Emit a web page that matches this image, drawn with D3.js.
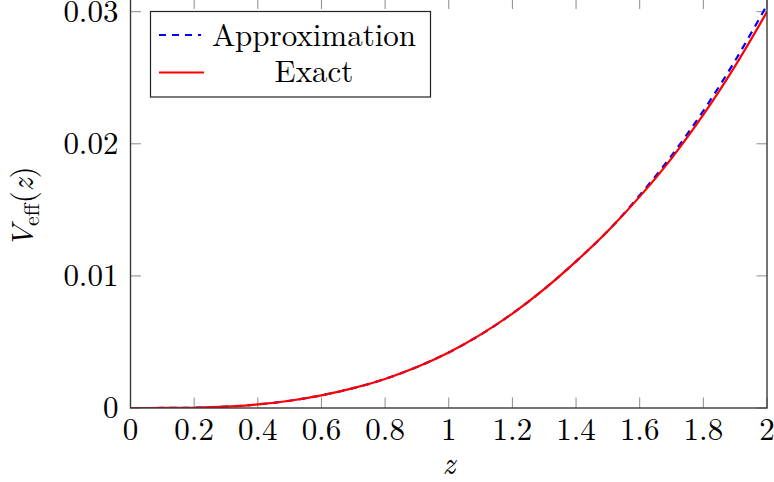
<!DOCTYPE html>
<html>
<head>
<meta charset="utf-8">
<script src="https://cdn.jsdelivr.net/npm/d3@7"></script>
<style>
  html, body { margin: 0; padding: 0; background: #fff; }
  svg { display: block; }
</style>
</head>
<body>
<svg id="chart" width="774" height="482"></svg>
<script>
// ---- data ----
const zValues = [0, 0.1, 0.2, 0.3, 0.4, 0.5, 0.6, 0.7, 0.8, 0.9, 1.0,
                 1.1, 1.2, 1.3, 1.4, 1.5, 1.6, 1.7, 1.8, 1.9, 2.0];
const exactValues = [0, 0.000003, 0.00002, 0.0001, 0.00027, 0.00055, 0.00096, 0.0015, 0.0022, 0.0031, 0.0042,
                     0.00555, 0.00715, 0.0090, 0.0111, 0.0134, 0.0160, 0.0189, 0.0222, 0.0259, 0.0300];
const approxValues = [0, 0.000003, 0.00002, 0.0001, 0.00027, 0.00055, 0.00096, 0.0015, 0.0022, 0.0031, 0.0042,
                      0.00555, 0.00715, 0.0090, 0.0111, 0.0134, 0.0161, 0.0191, 0.0225, 0.0263, 0.0305];
const xTicks = [0, 0.2, 0.4, 0.6, 0.8, 1, 1.2, 1.4, 1.6, 1.8, 2];
const xTickLabels = ["0", "0.2", "0.4", "0.6", "0.8", "1", "1.2", "1.4", "1.6", "1.8", "2"];
const yTicks = [0, 0.01, 0.02, 0.03];
const yTickLabels = ["0", "0.01", "0.02", "0.03"];
const seriesNames = ["Approximation", "Exact"];
const seriesColors = ["#0000ff", "#ff0000"];

(function () {
const svg = d3.select("#chart");
const x = d3.scaleLinear().domain([0, 2]).range([130.5, 767]);
const y = d3.scaleLinear().domain([0, 0.03]).range([408, 11.7]);
const yMax = 0.0310;
const pL = x(0), pR = x(2), pB = y(0), pT = y(yMax);
const tickLen = 10.5;
const fontSize = 31;
const ff = '"Latin Modern Roman", "Liberation Serif", serif';
const txt = (g) => g.append("text").style("font-family", ff).style("font-size", fontSize + "px").attr("fill", "#000");

svg.append("defs").append("clipPath").attr("id", "clip")
  .append("rect").attr("x", pL).attr("y", pT).attr("width", pR - pL).attr("height", pB - pT);

const tickG = svg.append("g").attr("stroke", "#8a8a8a").attr("stroke-width", 1);
xTicks.forEach(t => {
  tickG.append("line").attr("x1", x(t)).attr("x2", x(t)).attr("y1", pB).attr("y2", pB - tickLen);
  tickG.append("line").attr("x1", x(t)).attr("x2", x(t)).attr("y1", pT).attr("y2", pT + tickLen);
});
yTicks.forEach(t => {
  tickG.append("line").attr("x1", pL).attr("x2", pL + tickLen).attr("y1", y(t)).attr("y2", y(t));
  tickG.append("line").attr("x1", pR).attr("x2", pR - tickLen).attr("y1", y(t)).attr("y2", y(t));
});

const pts = vals => zValues.map((z, i) => [z, vals[i]]);
const line = d3.line().x(d => x(d[0])).y(d => y(d[1])).curve(d3.curveCatmullRom.alpha(0.5));
const plot = svg.append("g").attr("clip-path", "url(#clip)");
plot.append("path").attr("d", line(pts(approxValues)))
  .attr("fill", "none").attr("stroke", seriesColors[0]).attr("stroke-width", 2.2)
  .attr("stroke-dasharray", "7,6");
plot.append("path").attr("d", line(pts(exactValues)))
  .attr("fill", "none").attr("stroke", seriesColors[1]).attr("stroke-width", 2.2);

svg.append("rect").attr("x", pL).attr("y", pT).attr("width", pR - pL).attr("height", pB - pT)
  .attr("fill", "none").attr("stroke", "#3a3a3a").attr("stroke-width", 1.4);

xTicks.forEach((t, i) => {
  txt(svg).attr("x", x(t)).attr("y", 440).attr("text-anchor", "middle").text(xTickLabels[i]);
});
yTicks.forEach((t, i) => {
  txt(svg).attr("x", 118.5).attr("y", y(t) + 10).attr("text-anchor", "end").text(yTickLabels[i]);
});

txt(svg).attr("x", (pL + pR) / 2).attr("y", 474).attr("text-anchor", "middle")
  .style("font-style", "italic").text("z");

const yl = txt(svg).attr("transform", `translate(33,${(pT + pB) / 2 + 4}) rotate(-90)`)
  .attr("text-anchor", "middle");
yl.append("tspan").style("font-style", "italic").text("V");
yl.append("tspan").style("font-size", "22px").attr("dy", 6).attr("dx", -1).text("eff");
yl.append("tspan").attr("dy", -6).text("(");
yl.append("tspan").style("font-style", "italic").text("z");
yl.append("tspan").text(")");

const lg = svg.append("g");
lg.append("rect").attr("x", 150.5).attr("y", 11.5).attr("width", 280).attr("height", 85.5)
  .attr("fill", "#fff").attr("stroke", "#222").attr("stroke-width", 1.2);
const rowsY = [35, 72.5];
const baseY = [45.5, 82];
seriesNames.forEach((name, i) => {
  const l = lg.append("line").attr("x1", 159).attr("x2", i === 0 ? 201 : 204)
    .attr("y1", rowsY[i]).attr("y2", rowsY[i])
    .attr("stroke", seriesColors[i]).attr("stroke-width", 2.2);
  if (i === 0) l.attr("stroke-dasharray", "7,6");
  txt(lg).attr("x", 314).attr("y", baseY[i]).attr("text-anchor", "middle").text(name);
});
})();
</script>
</body>
</html>
